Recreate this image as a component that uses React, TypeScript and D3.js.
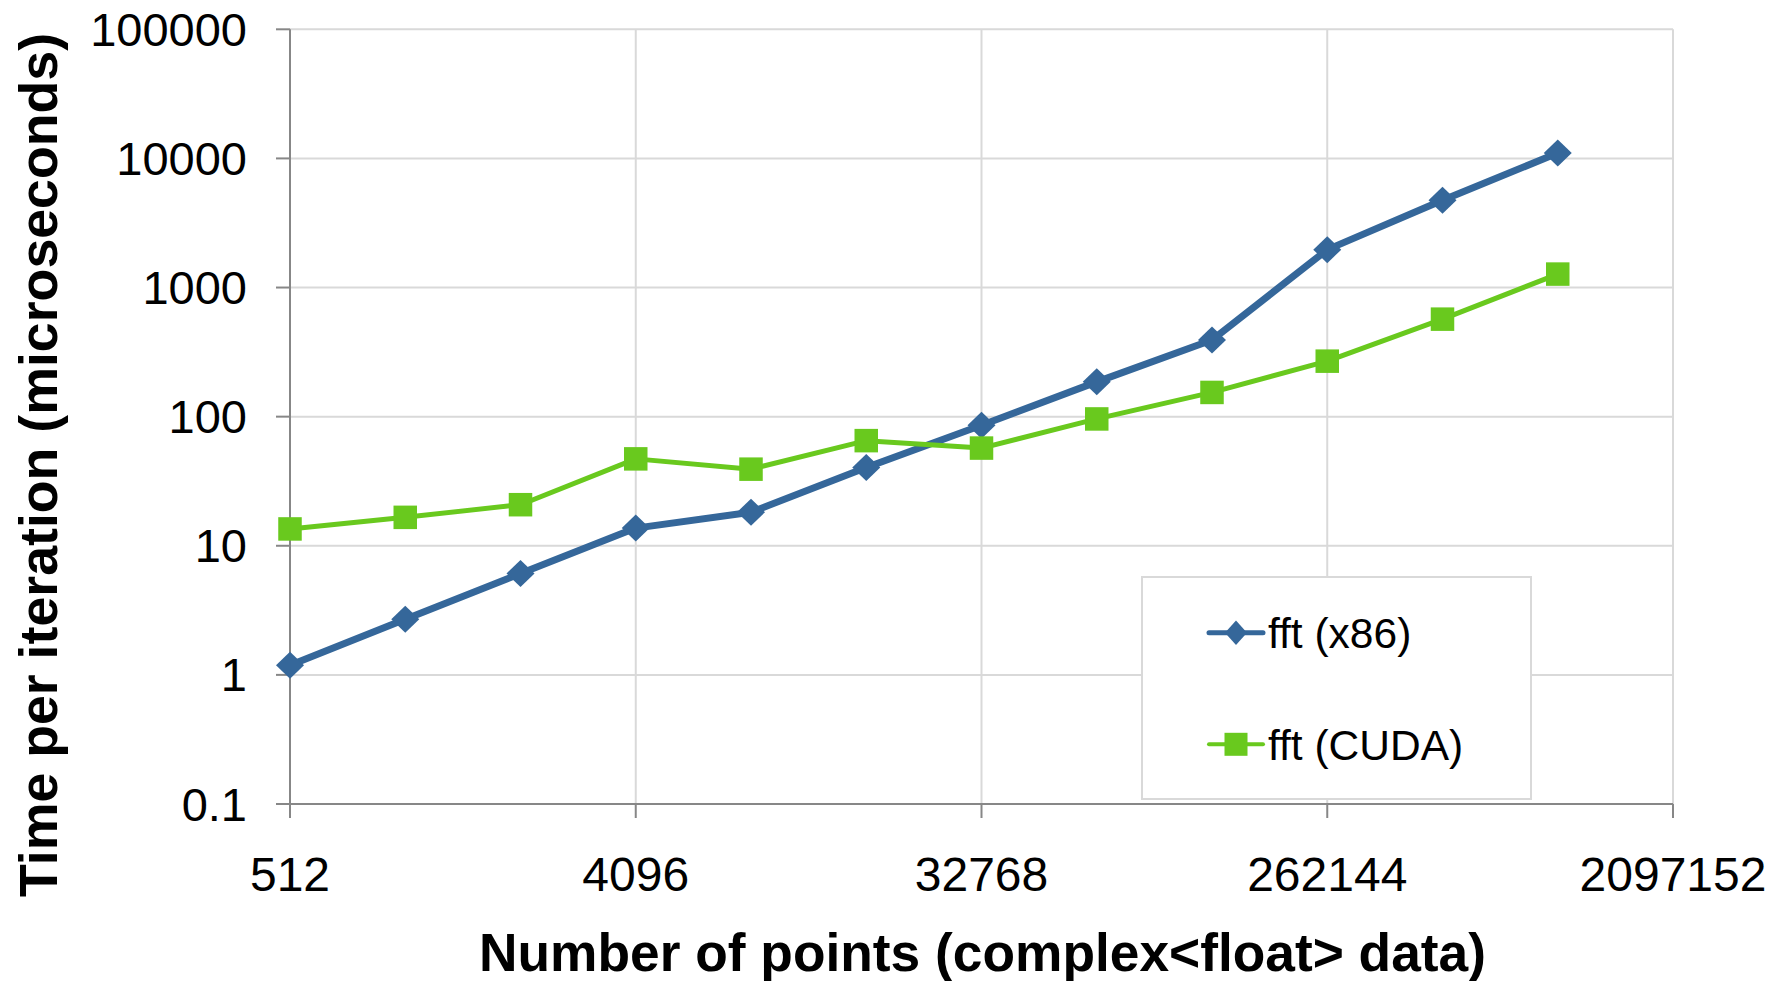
import React from "react";
import * as d3 from "d3";

const sizes = [512, 1024, 2048, 4096, 8192, 16384, 32768, 65536, 131072, 262144, 524288, 1048576];
const x86Values = [1.19, 2.7, 6.1, 13.7, 18.2, 40.4, 85.8, 186, 392, 1965, 4750, 11000];
const cudaValues = [13.5, 16.6, 20.8, 47.1, 39.2, 65.2, 57.1, 96, 154, 269, 569, 1271];
const xTicks = [512, 4096, 32768, 262144, 2097152];
const yTicks = [0.1, 1, 10, 100, 1000, 10000, 100000];
const seriesNames = ["fft (x86)", "fft (CUDA)"];

const W = 1771;
const H = 981;
const L = 290, R = 1673, T = 29.3, B = 804;
const FONT = "'Liberation Sans', Arial, Helvetica, sans-serif";
const BLUE = "#35679a";
const GREEN = "#69c91e";
const GRID = "#d9d9d9";
const AXIS = "#878787";

export default function App() {
  const x = d3.scaleLog().base(2).domain([512, 2097152]).range([L, R]);
  const y = d3.scaleLog().domain([0.1, 100000]).range([B, T]);
  const line = d3
    .line<[number, number]>()
    .x((d) => x(d[0]))
    .y((d) => y(d[1]));
  const x86 = sizes.map((s, i) => [s, x86Values[i]] as [number, number]);
  const cuda = sizes.map((s, i) => [s, cudaValues[i]] as [number, number]);
  const diamond = (cx: number, cy: number, rx: number, ry: number) =>
    `M${cx},${cy - ry}L${cx + rx},${cy}L${cx},${cy + ry}L${cx - rx},${cy}Z`;

  const legX = 1142, legY = 577, legW = 389, legH = 222;
  const legRows = [632.7, 744.3];

  return (
    <svg
      width={W}
      height={H}
      style={{ position: "absolute", left: 0, top: 0, display: "block", background: "#fff" }}
      fontFamily={FONT}
    >
      <rect x={0} y={0} width={W} height={H} fill="#fff" />
      {/* horizontal gridlines */}
      {yTicks.map((t) => (
        <line key={"hg" + t} x1={L} x2={R} y1={y(t)} y2={y(t)} stroke={GRID} strokeWidth={2} />
      ))}
      {/* vertical gridlines */}
      {xTicks.slice(1).map((t) => (
        <line key={"vg" + t} x1={x(t)} x2={x(t)} y1={T} y2={B} stroke={GRID} strokeWidth={2} />
      ))}
      {/* axes */}
      <line x1={L} x2={L} y1={T} y2={B + 14} stroke={AXIS} strokeWidth={2} />
      <line x1={L - 14} x2={R} y1={B} y2={B} stroke={AXIS} strokeWidth={2} />
      {yTicks.map((t) => (
        <line key={"yt" + t} x1={L - 14} x2={L} y1={y(t)} y2={y(t)} stroke={AXIS} strokeWidth={2} />
      ))}
      {xTicks.map((t) => (
        <line key={"xt" + t} x1={x(t)} x2={x(t)} y1={B} y2={B + 14} stroke={AXIS} strokeWidth={2} />
      ))}
      {/* tick labels */}
      {yTicks.map((t) => (
        <text key={"yl" + t} x={247} y={y(t) + 16.5} textAnchor="end" fontSize={47} fill="#000">
          {String(t)}
        </text>
      ))}
      {xTicks.map((t) => (
        <text key={"xl" + t} x={x(t)} y={891} textAnchor="middle" fontSize={48} fill="#000">
          {String(t)}
        </text>
      ))}
      {/* axis titles */}
      <text x={(L + R) / 2 + 1} y={971} textAnchor="middle" fontSize={53.3} fontWeight="bold" fill="#000">
        Number of points (complex&lt;float&gt; data)
      </text>
      <text
        transform={`translate(57,465) rotate(-90)`}
        textAnchor="middle"
        fontSize={53.7}
        fontWeight="bold"
        fill="#000"
      >
        Time per iteration (microseconds)
      </text>
      {/* series */}
      <path d={line(x86) || ""} fill="none" stroke={BLUE} strokeWidth={7} strokeLinejoin="round" />
      <path d={line(cuda) || ""} fill="none" stroke={GREEN} strokeWidth={5} strokeLinejoin="round" />
      {x86.map((d, i) => (
        <path key={"xd" + i} d={diamond(x(d[0]), y(d[1]), 14, 13.5)} fill={BLUE} />
      ))}
      {cuda.map((d, i) => (
        <rect key={"cs" + i} x={x(d[0]) - 11.75} y={y(d[1]) - 11.75} width={23.5} height={23.5} fill={GREEN} />
      ))}
      {/* legend */}
      <rect x={legX} y={legY} width={legW} height={legH} fill="#fff" stroke={GRID} strokeWidth={2} />
      <line x1={1209} x2={1263} y1={legRows[0]} y2={legRows[0]} stroke={BLUE} strokeWidth={5} strokeLinecap="round" />
      <path d={diamond(1236, legRows[0], 11, 12.2)} fill={BLUE} />
      <line x1={1209} x2={1263} y1={legRows[1]} y2={legRows[1]} stroke={GREEN} strokeWidth={4} strokeLinecap="round" />
      <rect x={1236 - 11.5} y={legRows[1] - 11.5} width={23} height={23} fill={GREEN} />
      {seriesNames.map((n, i) => (
        <text key={n} x={1268} y={legRows[i] + 15.5} fontSize={42.5} fill="#000">
          {n}
        </text>
      ))}
    </svg>
  );
}
